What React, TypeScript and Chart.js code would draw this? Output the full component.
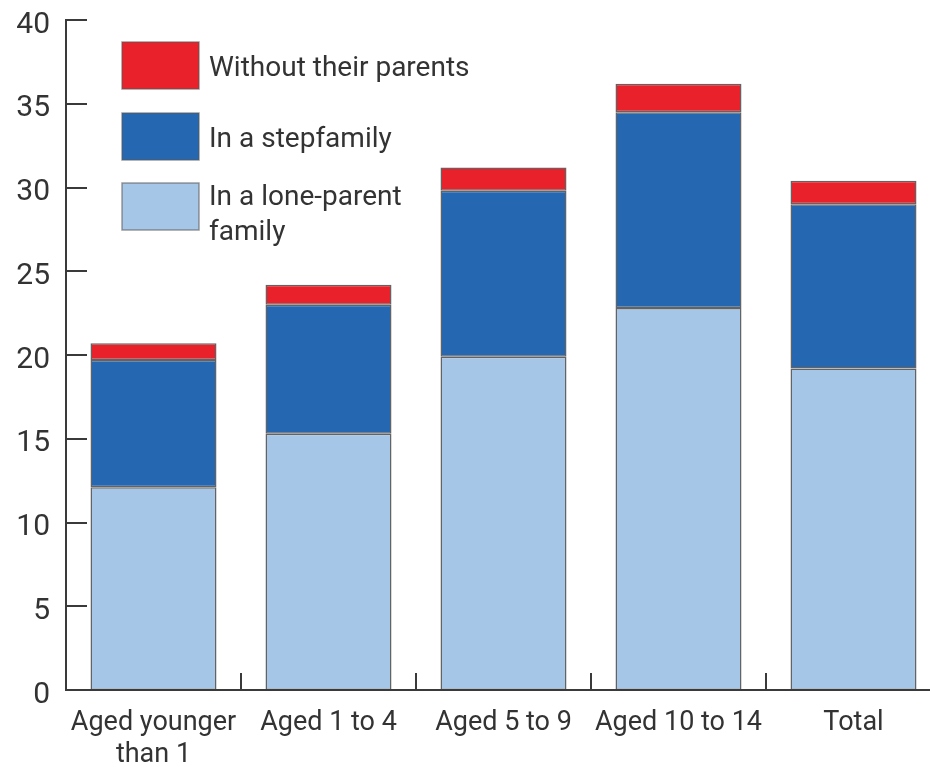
import React, { useEffect, useRef } from "react";
import { Chart, registerables } from "chart.js";

Chart.register(...registerables);

// Share of children by living arrangement (%)
const categories: (string | string[])[] = [
  ["Aged younger", "than 1"],
  "Aged 1 to 4",
  "Aged 5 to 9",
  "Aged 10 to 14",
  "Total",
];
const loneParent = [12.1, 15.3, 19.9, 22.8, 19.2];
const stepfamily = [7.6, 7.7, 9.9, 11.7, 9.8];
const withoutParents = [1.0, 1.2, 1.4, 1.7, 1.4];

const yMin = 0;
const yMax = 40;
const yStep = 5;

const seriesLabels = ["Without their parents", "In a stepfamily", "In a lone-parent family"];
const legendLines = [["Without their parents"], ["In a stepfamily"], ["In a lone-parent", "family"]];

const RED = "#E8212A";
const BLUE = "#2567B0";
const LIGHT = "#A6C6E8";
const EDGE = "rgba(60,60,60,0.8)";
const AXIS = "#3a3a3a";
const TEXT = "#333333";
const FONT = "Roboto, 'Noto Sans', sans-serif";

const axesAndLegend = {
  id: "axesAndLegend",
  afterDraw(chart: any) {
    const { ctx, chartArea } = chart;
    const x = chart.scales.x;
    const y = chart.scales.y;
    ctx.save();
    ctx.strokeStyle = AXIS;
    ctx.lineWidth = 2;
    ctx.lineCap = "butt";
    // value axis with inward ticks
    ctx.beginPath();
    ctx.moveTo(chartArea.left, y.getPixelForValue(yMax) - 1);
    ctx.lineTo(chartArea.left, chartArea.bottom + 1);
    for (let v = yMin; v <= yMax; v += yStep) {
      const py = Math.round(y.getPixelForValue(v));
      ctx.moveTo(chartArea.left, py);
      ctx.lineTo(chartArea.left + 21, py);
    }
    ctx.stroke();
    // category axis with upward separators
    ctx.beginPath();
    ctx.moveTo(chartArea.left, chartArea.bottom);
    ctx.lineTo(chart.width, chartArea.bottom);
    const n = categories.length;
    for (let i = 0; i < n - 1; i++) {
      const px = Math.round((x.getPixelForValue(i) + x.getPixelForValue(i + 1)) / 2);
      ctx.moveTo(px, chartArea.bottom);
      ctx.lineTo(px, chartArea.bottom - 17);
    }
    ctx.stroke();

    // legend
    const colors = [RED, BLUE, LIGHT];
    const boxX = chartArea.left + 56;
    const boxW = 77;
    const boxH = 47;
    const tops = [42, 113, 183];
    ctx.font = `28px ${FONT}`;
    ctx.textBaseline = "middle";
    ctx.textAlign = "left";
    colors.forEach((c, i) => {
      ctx.fillStyle = c;
      ctx.fillRect(boxX, tops[i], boxW, boxH);
      ctx.strokeStyle = "rgba(90,90,90,0.6)";
      ctx.lineWidth = 1.5;
      ctx.strokeRect(boxX, tops[i], boxW, boxH);
      ctx.fillStyle = TEXT;
      const lines = legendLines[i];
      const cy = tops[i] + boxH / 2;
      if (lines.length === 1) {
        ctx.fillText(lines[0], boxX + boxW + 10, cy + 3);
      } else {
        ctx.fillText(lines[0], boxX + boxW + 10, cy - 9);
        ctx.fillText(lines[1], boxX + boxW + 10, cy + 26);
      }
    });
    ctx.restore();
  },
};

export default function App() {
  const canvasRef = useRef<HTMLCanvasElement | null>(null);

  useEffect(() => {
    const canvas = canvasRef.current;
    if (!canvas) return;
    const barCommon = {
      borderColor: EDGE,
      borderWidth: 1.5,
      borderSkipped: false as const,
      barPercentage: 1,
      categoryPercentage: 0.72,
    };
    const chart = new Chart(canvas, {
      type: "bar",
      data: {
        labels: categories as any,
        datasets: [
          { label: seriesLabels[2], data: loneParent, backgroundColor: LIGHT, ...barCommon },
          { label: seriesLabels[1], data: stepfamily, backgroundColor: BLUE, ...barCommon },
          { label: seriesLabels[0], data: withoutParents, backgroundColor: RED, ...barCommon },
        ],
      },
      plugins: [axesAndLegend],
      options: {
        responsive: false,
        maintainAspectRatio: false,
        animation: false,
        devicePixelRatio: 1,
        layout: { padding: { top: 20, right: 9, left: 0, bottom: 0 } },
        plugins: {
          legend: { display: false },
          tooltip: { enabled: false },
          title: { display: false },
        },
        scales: {
          x: {
            stacked: true,
            grid: { display: false, drawTicks: false },
            border: { display: false },
            ticks: {
              color: TEXT,
              font: { family: FONT, size: 27 },
              padding: 17,
              maxRotation: 0,
              autoSkip: false,
            },
            afterFit(scale: any) {
              scale.height = 78;
              scale.paddingLeft = 0;
              scale.paddingRight = 0;
            },
          },
          y: {
            stacked: true,
            min: yMin,
            max: yMax,
            grid: { display: false, drawTicks: false },
            border: { display: false },
            ticks: {
              stepSize: yStep,
              color: TEXT,
              font: { family: FONT, size: 30 },
              padding: 16,
              labelOffset: 5,
            },
            afterFit(scale: any) {
              scale.width = 66;
              scale.paddingTop = 0;
              scale.paddingBottom = 0;
            },
          },
        },
      },
    });
    return () => chart.destroy();
  }, []);

  return (
    <div
      style={{
        position: "fixed",
        left: 0,
        top: 0,
        width: 930,
        height: 768,
        overflow: "hidden",
        background: "#fff",
      }}
    >
      <canvas ref={canvasRef} width={950} height={768} style={{ display: "block" }} />
    </div>
  );
}
